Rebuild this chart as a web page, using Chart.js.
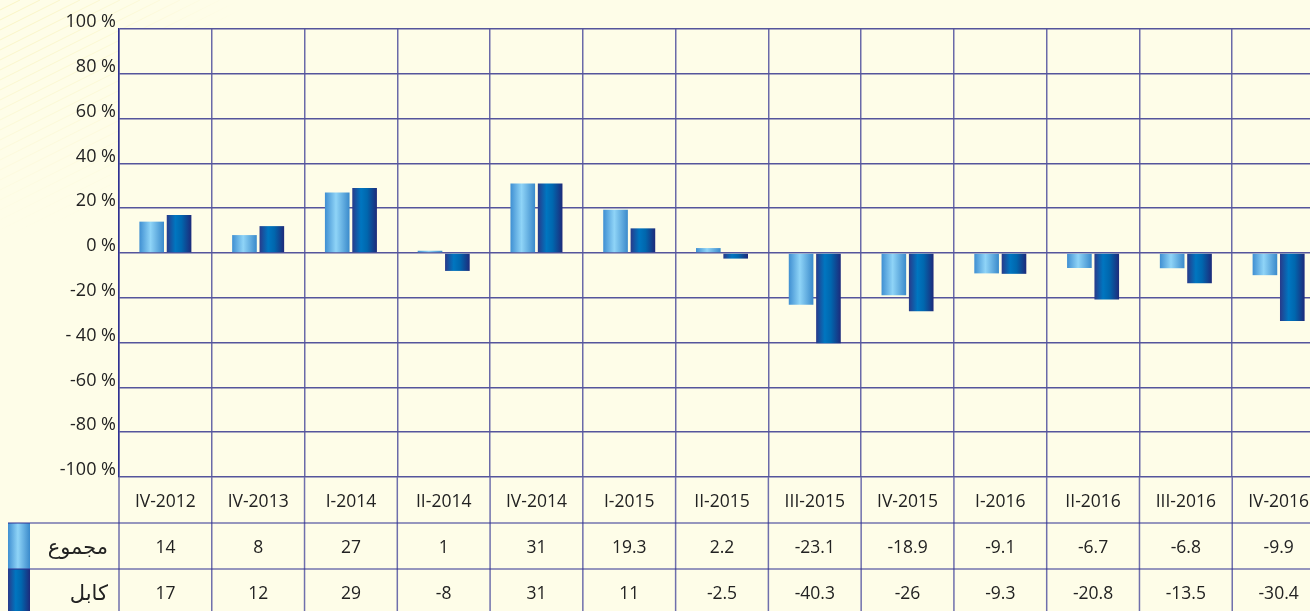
<!DOCTYPE html>
<html>
<head>
<meta charset="utf-8">
<script src="https://cdn.jsdelivr.net/npm/chart.js@4/dist/chart.umd.min.js"></script>
<style>
  html, body { margin: 0; padding: 0; overflow: hidden; background: #fefde8; }
  #wrap { width: 1325px; height: 611px; }
</style>
</head>
<body>
<div id="wrap"><canvas id="grafico"></canvas></div>
<script>
const categorias = ["IV-2012", "IV-2013", "I-2014", "II-2014", "IV-2014", "I-2015", "II-2015",
    "III-2015", "IV-2015", "I-2016", "II-2016", "III-2016", "IV-2016"];
const valoresTotal = [14, 8, 27, 1, 31, 19.3, 2.2, -23.1, -18.9, -9.1, -6.7, -6.8, -9.9];
const valoresKabul = [17, 12, 29, -8, 31, 11, -2.5, -40.3, -26, -9.3, -20.8, -13.5, -30.4];
const nombresSeries = ["مجموع", "كابل"];
const ticksY = [100, 80, 60, 40, 20, 0, -20, -40, -60, -80, -100];
const textosTicksY = ["100 %", "80 %", "60 %", "40 %", "20 %", "0 %", "-20 %", "- 40 %", "-60 %", "-80 %", "-100 %"];

const CREMA = "#fefde8";
const TEXTO = "#222222";
const FUENTE = '"Open Sans", "DejaVu Sans", sans-serif';
const CAT_PCT = 0.59;
const BAR_PCT = 0.9;

const paradasClaro = [[0, "#3f8fd2"], [0.45, "#8fd4f7"], [1, "#3a8acb"]];
const paradasOscuro = [[0, "#283a8a"], [0.35, "#0076c0"], [0.6, "#0067ae"], [1, "#1d2a7a"]];
const paradas = [paradasClaro, paradasOscuro];

function degradado(ctx, izq, der, stops) {
    const g = ctx.createLinearGradient(izq, 0, der, 0);
    stops.forEach(s => g.addColorStop(s[0], s[1]));
    return g;
}

function colorBarra(c) {
    if (c.type !== "data") return paradas[c.datasetIndex][1][1];
    const x = c.chart.scales.x;
    if (!x || !x.width) return paradas[c.datasetIndex][1][1];
    const anchoCat = x.width / categorias.length;
    const slot = anchoCat * CAT_PCT / 2;
    const anchoBarra = slot * BAR_PCT;
    const centro = x.getPixelForValue(c.dataIndex);
    const izq = centro - anchoCat * CAT_PCT / 2 + c.datasetIndex * slot + (slot - anchoBarra) / 2;
    return degradado(c.chart.ctx, izq, izq + anchoBarra, paradas[c.datasetIndex]);
}

const tablaPlugin = {
    id: "tablaDatos",
    beforeDraw(chart) {
        const ctx = chart.ctx;
        const a = chart.chartArea;
        ctx.save();
        ctx.fillStyle = CREMA;
        ctx.fillRect(0, 0, chart.width, chart.height);
        // rayas diagonales muy suaves arriba a la izquierda
        const rg = ctx.createRadialGradient(0, 0, 0, 0, 0, 240);
        rg.addColorStop(0, "rgba(248,242,185,0.8)");
        rg.addColorStop(1, "rgba(248,242,185,0)");
        ctx.strokeStyle = rg;
        ctx.lineWidth = 1;
        for (let k = 0; k < 400; k += 10) {
            ctx.beginPath();
            ctx.moveTo(0, k);
            ctx.lineTo(k * 2, 0);
            ctx.stroke();
        }
        ctx.fillStyle = CREMA;
        ctx.fillRect(a.left, a.top, a.right - a.left, chart.height - a.top);
        ctx.restore();
    },
    afterDraw(chart) {
        const ctx = chart.ctx;
        const x = chart.scales.x;
        const a = chart.chartArea;
        const anchoCat = x.width / categorias.length;
        const altoFila = 46;
        const y0 = a.bottom, y1 = y0 + altoFila, y2 = y1 + altoFila, y3 = y2 + altoFila;
        ctx.save();

        // muestras de leyenda
        [[y1, y2], [y2, y3]].forEach((f, i) => {
            ctx.fillStyle = degradado(ctx, 8, 30, paradas[i]);
            ctx.fillRect(8, f[0], 22, f[1] - f[0]);
        });

        // lineas verticales
        ctx.strokeStyle = "#6f6fac";
        ctx.lineWidth = 1.5;
        for (let i = 0; i <= categorias.length; i++) {
            const xp = x.left + i * anchoCat;
            ctx.beginPath();
            ctx.moveTo(xp, y0);
            ctx.lineTo(xp, chart.height);
            ctx.stroke();
        }
        // lineas horizontales
        ctx.strokeStyle = "#2e3192";
        ctx.lineWidth = 1.2;
        [y1, y2].forEach(yy => {
            ctx.beginPath();
            ctx.moveTo(8, yy);
            ctx.lineTo(chart.width, yy);
            ctx.stroke();
        });

        ctx.fillStyle = TEXTO;
        ctx.font = "17.5px " + FUENTE;
        ctx.textAlign = "center";
        ctx.textBaseline = "middle";
        const medio = altoFila / 2 + 2;
        categorias.forEach((cat, i) => {
            const cx = x.getPixelForValue(i);
            ctx.fillText(cat, cx, y0 + medio);
            ctx.fillText(String(valoresTotal[i]), cx, y1 + medio);
            ctx.fillText(String(valoresKabul[i]), cx, y2 + medio);
        });

        ctx.font = "21px " + FUENTE;
        ctx.textAlign = "right";
        ctx.fillText(nombresSeries[0], 108, y1 + medio);
        ctx.fillText(nombresSeries[1], 108, y2 + medio);
        ctx.restore();
    }
};

const ctx = document.getElementById("grafico").getContext("2d");
const grafico = new Chart(ctx, {
    type: "bar",
    data: {
        labels: categorias,
        datasets: [
            { label: nombresSeries[0], data: valoresTotal, backgroundColor: colorBarra },
            { label: nombresSeries[1], data: valoresKabul, backgroundColor: colorBarra }
        ]
    },
    options: {
        responsive: true,
        maintainAspectRatio: false,
        animation: false,
        categoryPercentage: CAT_PCT,
        barPercentage: BAR_PCT,
        layout: { padding: { top: 29, right: 0, left: 0, bottom: 0 } },
        plugins: {
            legend: { display: false },
            tooltip: { enabled: false }
        },
        scales: {
            x: {
                offset: true,
                ticks: { display: false },
                grid: { offset: true, color: "#6a6aa8", lineWidth: 1.5, drawTicks: false },
                border: { display: false },
                afterFit(scale) { scale.height = 134; }
            },
            y: {
                min: -100,
                max: 100,
                afterBuildTicks(scale) { scale.ticks = ticksY.map(v => ({ value: v })); },
                ticks: {
                    color: TEXTO,
                    font: { family: FUENTE, size: 18 },
                    padding: 3,
                    labelOffset: -7,
                    callback: (v) => textosTicksY[ticksY.indexOf(v)]
                },
                grid: { color: "#55559c", lineWidth: 1.5, drawTicks: false },
                border: { color: "#2e3192", width: 1.5 },
                afterFit(scale) { scale.width = 119; }
            }
        }
    },
    plugins: [tablaPlugin]
});
</script>
</body>
</html>
